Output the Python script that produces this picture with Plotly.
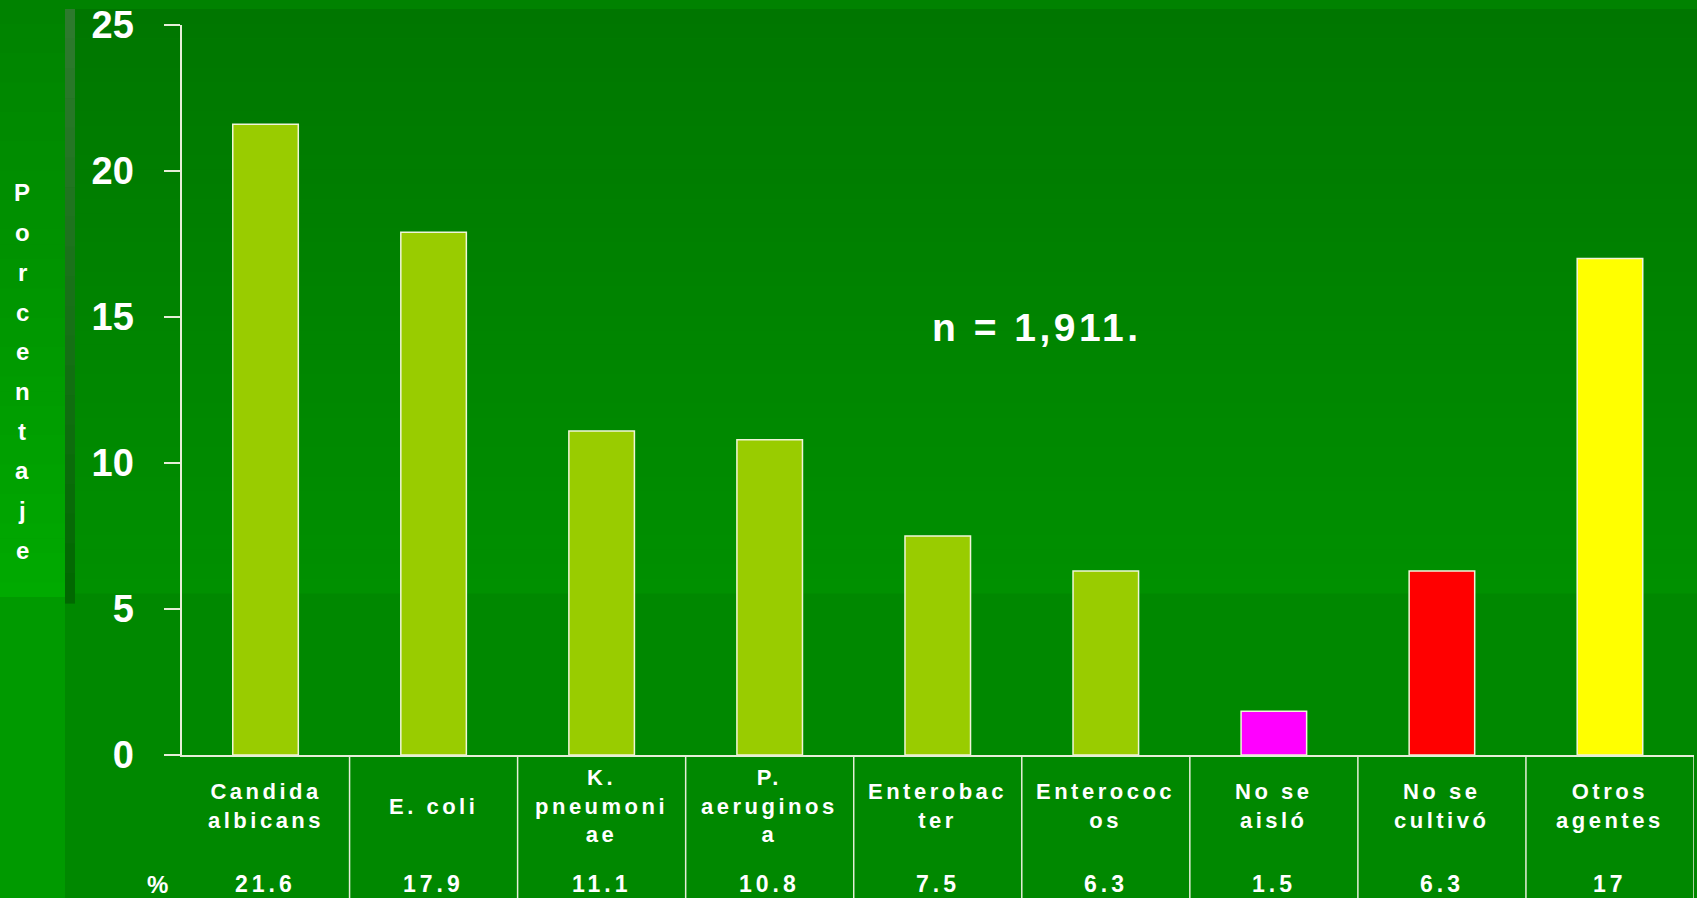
import plotly.graph_objects as go

categories = ["Candida albicans", "E. coli", "K. pneumoniae", "P. aeruginosa",
              "Enterobacter", "Enterococos", "No se aisló", "No se cultivó", "Otros agentes"]
label_lines = ["Candida<br>albicans", "E. coli", "K.<br>pneumoni<br>ae", "P.<br>aeruginos<br>a",
               "Enterobac<br>ter", "Enterococ<br>os", "No se<br>aisló", "No se<br>cultivó", "Otros<br>agentes"]
values = [21.6, 17.9, 11.1, 10.8, 7.5, 6.3, 1.5, 6.3, 17]
value_labels = ["21.6", "17.9", "11.1", "10.8", "7.5", "6.3", "1.5", "6.3", "17"]
bar_colors = ["#99CC00", "#99CC00", "#99CC00", "#99CC00", "#99CC00", "#99CC00",
              "#FF00FF", "#FF0000", "#FFFF00"]
y_ticks = [0, 5, 10, 15, 20, 25]
y_title = "Porcentaje"
note = "n = 1,911."

W, H = 1697, 898
FONT = "Liberation Sans, Arial, sans-serif"


def px(x):
    return x / W


def py(y):
    return 1 - y / H


def mix(c1, c2, t):
    a = [int(c1[i:i + 2], 16) for i in (1, 3, 5)]
    b = [int(c2[i:i + 2], 16) for i in (1, 3, 5)]
    return "#" + "".join(f"{round(a[k] + (b[k] - a[k]) * t):02x}" for k in range(3))


shapes = []


def rect(x0, y0, x1, y1, color):
    shapes.append(dict(type="rect", xref="paper", yref="paper",
                       x0=px(x0), x1=px(x1), y0=py(y1), y1=py(y0),
                       fillcolor=color, line=dict(width=0), layer="below"))


def grad(x0, y0, x1, y1, c_top, c_bot, n=40):
    h = (y1 - y0) / n
    for i in range(n):
        rect(x0, y0 + i * h, x1, y0 + (i + 1) * h + 0.6, mix(c_top, c_bot, (i + 0.5) / n))


# background panels
rect(0, 0, W, 9, "#008200")
grad(0, 9, 65, 597, "#008200", "#00AA00")
rect(0, 597, 65, H, "#009A00")
grad(65, 9, W, 593, "#007600", "#009000")
grad(65, 9, 75, 603, "#2E7A2E", "#006800", n=20)

# dividers of the table below the axis
for i in range(len(categories)):
    shapes.append(dict(type="line", xref="x", yref="paper", x0=i + 0.5, x1=i + 0.5,
                       y0=0, y1=py(755), line=dict(color="#E6EED8", width=1.5)))

fig = go.Figure(go.Bar(
    x=list(range(len(categories))), y=values, width=0.39,
    marker=dict(color=bar_colors, line=dict(color="#F0F5D8", width=1.5)),
    hovertext=categories,
))


def spaced(t, ls):
    return f"<span style='letter-spacing:{ls}px'>{t}</span>"


annotations = []
for i, lab in enumerate(label_lines):
    annotations.append(dict(x=i, xref="x", y=py(806), yref="paper",
                            text=spaced(lab, 3.5),
                            showarrow=False, xanchor="center", yanchor="middle",
                            font=dict(family=FONT, size=22, color="white", weight="bold")))
    annotations.append(dict(x=i, xref="x", y=py(884), yref="paper",
                            text=spaced(value_labels[i], 4),
                            showarrow=False, xanchor="center", yanchor="middle",
                            font=dict(family=FONT, size=23, color="white", weight="bold")))
annotations.append(dict(x=px(157), xref="paper", y=py(884), yref="paper",
                        text="%", showarrow=False, xanchor="center", yanchor="middle",
                        font=dict(family=FONT, size=24, color="white", weight="bold")))
for k, ch in enumerate(y_title):
    annotations.append(dict(x=px(22), xref="paper", y=py(193 + k * 39.7), yref="paper",
                            text=ch, showarrow=False, xanchor="center",
                            yanchor="middle",
                            font=dict(family=FONT, size=24, color="white", weight="bold")))
annotations.append(dict(x=px(1037), xref="paper", y=py(328), yref="paper",
                        text=spaced(note, 3.5), showarrow=False, xanchor="center",
                        yanchor="middle",
                        font=dict(family=FONT, size=39, color="white", weight="bold")))

fig.update_layout(
    width=W, height=H,
    autosize=False,
    margin=dict(l=0, r=0, t=0, b=0, pad=0),
    paper_bgcolor="#008800",
    plot_bgcolor="rgba(0,0,0,0)",
    showlegend=False,
    bargap=0.6,
    shapes=shapes,
    annotations=annotations,
    xaxis=dict(domain=[px(181.5), px(1694)], range=[-0.5, len(categories) - 0.5],
               showticklabels=False, ticks="", showgrid=False, zeroline=False,
               showline=True, linecolor="#E6EED8", linewidth=2, fixedrange=True,
               automargin=False),
    yaxis=dict(domain=[py(755), py(25)], range=[0, 25], tickvals=y_ticks,
               ticks="outside", ticklen=16, tickwidth=1.5, tickcolor="#E6EED8",
               showline=True, linecolor="#E6EED8", linewidth=2,
               showgrid=False, zeroline=False, ticklabelstandoff=22,
               tickfont=dict(family=FONT, size=38, color="white", weight="bold"),
               fixedrange=True, automargin=False),
)

fig.write_html(
    "out.html",
    config={"displayModeBar": False},
    post_script="document.body.style.margin='0';document.body.style.padding='0';"
                "document.body.style.overflow='hidden';",
)
